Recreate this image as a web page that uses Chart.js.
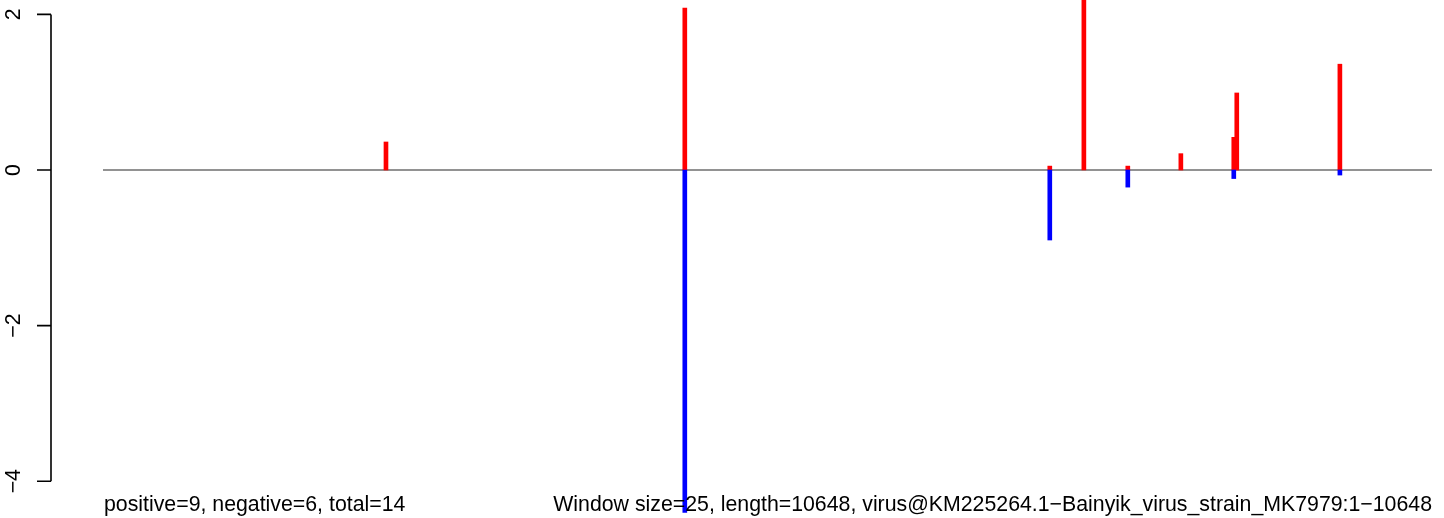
<!DOCTYPE html>
<html>
<head>
<meta charset="utf-8">
<script src="https://cdn.jsdelivr.net/npm/chart.js@4/dist/chart.umd.min.js"></script>
<style>
html,body{margin:0;padding:0;background:#fff;}
#wrap{width:1444px;height:518px;position:relative;}
</style>
</head>
<body>
<div id="wrap"><canvas id="c" width="1444" height="518"></canvas></div>
<script>
// Data
const seqLength = 10648;
const posPositions = [2268, 4662, 7586, 7859, 8211, 8636, 9060, 9084, 9910];
const posValues    = [0.36, 2.08, 0.05, 2.25, 0.05, 0.21, 0.42, 0.99, 1.36];
const negPositions = [4662, 7586, 8211, 9060, 9910];
const negValues    = [-4.40, -0.90, -0.22, -0.11, -0.065];
const yTicks = [2, 0, -2, -4];
const yTickLabels = ["2", "0", "\u22122", "\u22124"];
const leftText = "positive=9, negative=6, total=14";
const rightText = "Window size=25, length=10648, virus@KM225264.1\u2212Bainyik_virus_strain_MK7979:1\u221210648";

const FONT = "21.3px 'Liberation Sans', Arial, Helvetica, sans-serif";

const rStyle = {
  id: 'rStyle',
  afterDraw(chart) {
    const ctx = chart.ctx;
    const y = chart.scales.y;
    const xs = chart.scales.x;
    const axX = 51;
    ctx.save();
    ctx.strokeStyle = '#000';
    ctx.lineWidth = 1.6;
    ctx.beginPath();
    ctx.moveTo(axX, y.getPixelForValue(yTicks[0]));
    ctx.lineTo(axX, y.getPixelForValue(yTicks[yTicks.length - 1]));
    yTicks.forEach(t => {
      const py = y.getPixelForValue(t);
      ctx.moveTo(axX, py);
      ctx.lineTo(37, py);
    });
    ctx.stroke();
    ctx.fillStyle = '#000';
    ctx.font = FONT;
    yTicks.forEach((t, i) => {
      const py = y.getPixelForValue(t);
      ctx.save();
      ctx.translate(20, py);
      ctx.rotate(-Math.PI / 2);
      ctx.textAlign = 'center';
      ctx.textBaseline = 'alphabetic';
      ctx.fillText(yTickLabels[i], 0, 0);
      ctx.restore();
    });
    ctx.textBaseline = 'alphabetic';
    ctx.textAlign = 'left';
    ctx.fillText(leftText, xs.getPixelForValue(1) + 1, 511);
    ctx.textAlign = 'right';
    ctx.fillText(rightText, xs.getPixelForValue(seqLength), 511);
    ctx.restore();
  }
};

new Chart(document.getElementById('c'), {
  type: 'bar',
  data: {
    datasets: [
      {
        type: 'line',
        data: [{x: 1, y: 0}, {x: seqLength, y: 0}],
        borderColor: '#6e6e6e',
        borderWidth: 1.4,
        pointRadius: 0,
        order: 3
      },
      {
        data: posPositions.map((p, i) => ({x: p, y: posValues[i]})),
        backgroundColor: '#ff0000',
        borderWidth: 0,
        barThickness: 4,
        grouped: false,
        order: 2
      },
      {
        data: negPositions.map((p, i) => ({x: p, y: negValues[i]})),
        backgroundColor: '#0000ff',
        borderWidth: 0,
        barThickness: 4,
        grouped: false,
        order: 1
      }
    ]
  },
  options: {
    responsive: false,
    animation: false,
    events: [],
    layout: {padding: {left: 103, right: 12, top: 0, bottom: 0}},
    plugins: {legend: {display: false}, tooltip: {enabled: false}},
    scales: {
      x: {type: 'linear', min: 1, max: seqLength, offset: false, display: false},
      y: {type: 'linear', min: -4.473, max: 2.185, display: false}
    }
  },
  plugins: [rStyle]
});
</script>
</body>
</html>
